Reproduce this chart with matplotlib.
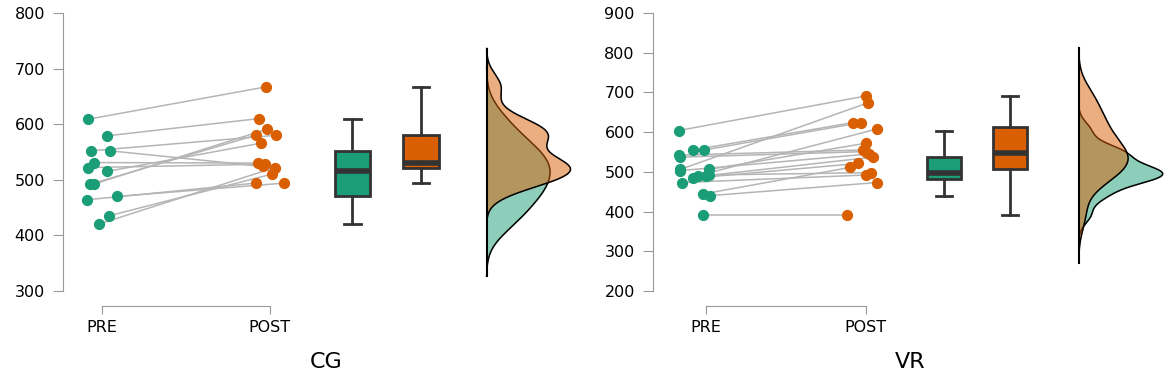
import matplotlib.pyplot as plt
import numpy as np

# Werte (PRE -> POST, gleiche Reihenfolge = gleiche Person)
cg_pre = [609, 579, 552, 552, 531, 522, 515, 492, 492, 464, 470, 435, 420]
cg_post = [667, 610, 580, 524, 530, 528, 566, 580, 591, 494, 494, 510, 522]
cg_pre_jit = [-0.08, 0.03, -0.066, 0.05, -0.046, -0.08, 0.03, -0.07, -0.05, -0.09, 0.09, 0.04, -0.02]
cg_post_jit = [-0.024, -0.065, 0.036, -0.04, -0.07, -0.03, -0.05, -0.085, -0.016, -0.085, 0.085, 0.01, 0.03]

vr_pre = [604, 555, 555, 542, 537, 506, 503, 473, 484, 490, 490, 506, 492, 444, 440, 391]
vr_post = [691, 624, 624, 555, 551, 674, 545, 492, 521, 608, 537, 572, 498, 511, 473, 391]
vr_pre_jit = [-0.17, -0.08, -0.01, -0.17, -0.16, -0.16, -0.16, -0.15, -0.08, -0.05, 0.0, 0.02, 0.02, -0.02, 0.025, -0.02]
vr_post_jit = [0.0, -0.08, -0.03, -0.02, 0.0, 0.015, 0.02, 0.0, -0.05, 0.07, 0.045, 0.0, 0.035, -0.1, 0.07, -0.12]

groups = ["CG", "VR"]
conditions = ["PRE", "POST"]
yticks = [[300, 400, 500, 600, 700, 800], [200, 300, 400, 500, 600, 700, 800, 900]]

green = '#1b9e77'
orange = '#d95f02'
dark = '#333333'


def kde(vals, h):
    vals = np.asarray(vals, float)
    grid = np.linspace(vals.min() - 3 * h, vals.max() + 3 * h, 400)
    dens = np.exp(-0.5 * ((grid[:, None] - vals[None, :]) / h) ** 2).sum(axis=1)
    dens /= len(vals) * h * np.sqrt(2 * np.pi)
    return grid, dens


data = [(cg_pre, cg_post, cg_pre_jit, cg_post_jit), (vr_pre, vr_post, vr_pre_jit, vr_post_jit)]
# Bandbreiten der Dichten (pre, post) pro Gruppe
bandwidths = [(31, 23), (22, 40)]
# Layout: [left, bottom, width, height], xlim, Dichte-Basis, max. Breite
axpos = [[0.0538, 0.252, 0.4496, 0.7147], [0.558, 0.252, 0.4392, 0.7147]]
xlims = [(-0.232, 2.9), (-0.331, 2.88)]
dens_base = [2.29, 2.33]
dens_w = [0.5, 0.525]

fig = plt.figure(figsize=(11.7, 3.89), dpi=100)

for i in range(2):
    pre, post, pj, qj = data[i]
    ax = fig.add_axes(axpos[i])
    xp = 0 + np.array(pj)
    xq = 1 + np.array(qj)

    # Verbindungslinien
    for a in range(len(pre)):
        ax.plot([xp[a], xq[a]], [pre[a], post[a]], color='#b5b5b5', lw=1.1, zorder=1)
    ax.scatter(xp, pre, s=50, color=green, edgecolor=green, zorder=3)
    ax.scatter(xq, post, s=50, color=orange, edgecolor=orange, zorder=3)

    # Boxplots
    bp = ax.boxplot([pre, post], positions=[1.49, 1.9], widths=0.21, patch_artist=True,
                    showfliers=False, whis=1.5,
                    boxprops=dict(linewidth=2, color=dark),
                    whiskerprops=dict(linewidth=2, color=dark),
                    capprops=dict(linewidth=2, color=dark),
                    medianprops=dict(linewidth=4, color=dark))
    for patch, c in zip(bp['boxes'], [green, orange]):
        patch.set_facecolor(c)
        patch.set_edgecolor(dark)
    for cap in bp['caps']:
        m = np.mean(cap.get_xdata())
        cap.set_xdata([m - 0.05, m + 0.05])

    # Halbe Dichten
    g1, d1 = kde(pre, bandwidths[i][0])
    g2, d2 = kde(post, bandwidths[i][1])
    sc = dens_w[i] / max(d1.max(), d2.max())
    b = dens_base[i]
    ax.fill_betweenx(g1, b, b + d1 * sc, color=green, alpha=0.5, lw=0, zorder=2)
    ax.plot(b + d1 * sc, g1, color='black', lw=1.1, zorder=2)
    ax.fill_betweenx(g2, b, b + d2 * sc, color=orange, alpha=0.5, lw=0, zorder=2)
    ax.plot(b + d2 * sc, g2, color='black', lw=1.1, zorder=2)
    ax.plot([b, b], [min(g1.min(), g2.min()), max(g1.max(), g2.max())], color='black', lw=1.5, zorder=2)

    # Achsen
    ax.set_xlim(xlims[i])
    ax.set_ylim(yticks[i][0], yticks[i][-1])
    ax.set_yticks(yticks[i])
    ax.set_xticks([0, 1])
    ax.set_xticklabels(conditions)
    ax.spines['top'].set_visible(False)
    ax.spines['right'].set_visible(False)
    ax.spines['left'].set_color('#999999')
    ax.spines['bottom'].set_color('#999999')
    ax.spines['bottom'].set_position(('outward', 11))
    ax.spines['bottom'].set_bounds(0, 1)
    ax.spines['left'].set_bounds(yticks[i][0], yticks[i][-1])
    ax.tick_params(axis='y', length=7, color='#999999', labelsize=11.5, pad=6)
    ax.tick_params(axis='x', length=6, color='#999999', labelsize=11.5, pad=4)
    ax.set_xlabel(groups[i], fontsize=16, labelpad=12)
    ax.patch.set_visible(False)

plt.savefig('out.png', dpi=100)
